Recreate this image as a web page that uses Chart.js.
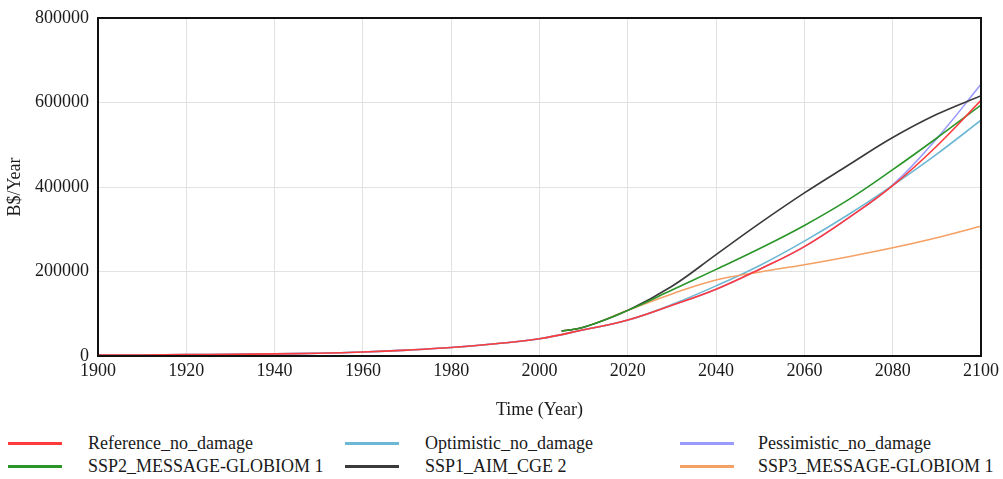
<!DOCTYPE html>
<html>
<head>
<meta charset="utf-8">
<script src="https://cdn.jsdelivr.net/npm/chart.js@4"></script>
<style>
  html, body { margin: 0; padding: 0; background: #fff; }
  body { width: 1003px; height: 479px; position: relative; overflow: hidden; font-family: "Liberation Serif", "Times New Roman", serif; }
  #wrap { position: absolute; left: 0; top: 0; width: 1003px; height: 430px; }
  .leg { position: absolute; font-size: 18px; color: #1a1a1a; white-space: nowrap; line-height: 20px; }
  .sw { position: absolute; height: 3px; }
</style>
</head>
<body>
<div id="wrap"><canvas id="c"></canvas></div>
<div id="legend"></div>
<script>
// ---- data ----
const refYears = [1900,1910,1920,1930,1940,1950,1960,1970,1980,1990,2000,2010,2020,2030,2040,2050,2060,2070,2080,2090,2100];
const referenceNoDamage  = [2000,2500,3200,4000,5000,6500,9500,14000,20000,29000,41000,62000,85000,120000,158000,206000,259000,327000,403000,497000,605000];
const optimisticNoDamage = [2000,2500,3200,4000,5000,6500,9500,14000,20000,29000,41000,62000,85000,122000,166000,215000,272000,335000,404000,478000,558000];
const pessimisticNoDamage= [2000,2500,3200,4000,5000,6500,9500,14000,20000,29000,41000,62000,85000,120000,158000,206000,259000,327000,405000,515000,643000];

const sspYears = [2005,2010,2020,2030,2040,2050,2060,2070,2080,2090,2100];
const ssp2MessageGlobiom1 = [59000,68000,108000,156000,205000,255000,309000,370000,441000,516000,594000];
const ssp1AimCge2         = [59000,68000,108000,165000,240000,315000,386000,452000,517000,572000,616000];
const ssp3MessageGlobiom1 = [59000,68000,108000,147000,180000,199000,216000,235000,256000,280000,307000];

const xTicks = [1900,1920,1940,1960,1980,2000,2020,2040,2060,2080,2100];
const yTicks = [0,200000,400000,600000,800000];

const seriesNames = ["Reference_no_damage","Optimistic_no_damage","Pessimistic_no_damage","SSP2_MESSAGE-GLOBIOM 1","SSP1_AIM_CGE 2","SSP3_MESSAGE-GLOBIOM 1"];
const seriesColors = ["#ff3b3b","#6cb8d4","#9a9aff","#2a962a","#3a3a3a","#f5a064"];
// lower = drawn on top
const drawOrder = [0,4,5,1,2,3];

function pts(xs, ys) { return xs.map((x, i) => ({x: x, y: ys[i]})); }

const datasets = [
  pts(refYears, referenceNoDamage),
  pts(refYears, optimisticNoDamage),
  pts(refYears, pessimisticNoDamage),
  pts(sspYears, ssp2MessageGlobiom1),
  pts(sspYears, ssp1AimCge2),
  pts(sspYears, ssp3MessageGlobiom1)
].map((d, i) => ({
  label: seriesNames[i],
  data: d,
  order: drawOrder[i],
  borderColor: seriesColors[i],
  backgroundColor: seriesColors[i],
  borderWidth: 1.6,
  pointRadius: 0,
  fill: false,
  tension: 0.4
}));

const frame = {
  id: 'frame',
  afterDatasetsDraw(chart) {
    const a = chart.chartArea, ctx = chart.ctx;
    ctx.save();
    ctx.strokeStyle = '#111';
    ctx.lineWidth = 2;
    ctx.strokeRect(a.left, a.top, a.right - a.left, a.bottom - a.top);
    ctx.restore();
  }
};

const font = { family: "'Liberation Serif', 'Times New Roman', serif", size: 18 };
const yTickFont = { family: "'Liberation Serif', 'Times New Roman', serif", size: 18, lineHeight: 1 };

new Chart(document.getElementById('c'), {
  type: 'line',
  data: { datasets },
  plugins: [frame],
  options: {
    responsive: true,
    maintainAspectRatio: false,
    animation: false,
    layout: { padding: { top: 15, right: 22, left: 0, bottom: 0 } },
    plugins: { legend: { display: false }, tooltip: { enabled: false } },
    scales: {
      x: {
        type: 'linear',
        min: xTicks[0], max: xTicks[xTicks.length - 1],
        afterBuildTicks(s) { s.ticks = xTicks.map(v => ({ value: v })); },
        afterFit(s) { s.height = 74; },
        grid: { color: '#e2e2e2', lineWidth: 1, drawTicks: false },
        border: { display: false },
        ticks: { font, color: '#1a1a1a', padding: 4, maxRotation: 0, callback: v => String(v) },
        title: { display: true, text: 'Time (Year)', font, color: '#1a1a1a', padding: { top: 4, bottom: 9 } }
      },
      y: {
        type: 'linear',
        min: yTicks[0], max: yTicks[yTicks.length - 1],
        afterBuildTicks(s) { s.ticks = yTicks.map(v => ({ value: v })); },
        afterFit(s) { s.width = 98; },
        grid: { color: '#e2e2e2', lineWidth: 1, drawTicks: false },
        border: { display: false },
        ticks: { font: yTickFont, color: '#1a1a1a', padding: 9, callback: v => String(v) },
        title: { display: true, text: 'B$/Year', font, color: '#1a1a1a', padding: { top: 4, bottom: 4 } }
      }
    }
  }
});

// ---- HTML legend ----
const legPos = [
  { sx: 8, tx: 88, y: 443 },
  { sx: 345, tx: 425, y: 443 },
  { sx: 680, tx: 758, y: 443 },
  { sx: 8, tx: 88, y: 466 },
  { sx: 345, tx: 425, y: 466 },
  { sx: 680, tx: 758, y: 466 }
];
const legend = document.getElementById('legend');
seriesNames.forEach((name, i) => {
  const p = legPos[i];
  const sw = document.createElement('div');
  sw.className = 'sw';
  sw.style.left = p.sx + 'px';
  sw.style.width = '54px';
  sw.style.top = (p.y - 1) + 'px';
  sw.style.background = seriesColors[i];
  legend.appendChild(sw);
  const t = document.createElement('div');
  t.className = 'leg';
  t.style.left = p.tx + 'px';
  t.style.top = (p.y - 10) + 'px';
  t.textContent = name;
  legend.appendChild(t);
});
</script>
</body>
</html>
